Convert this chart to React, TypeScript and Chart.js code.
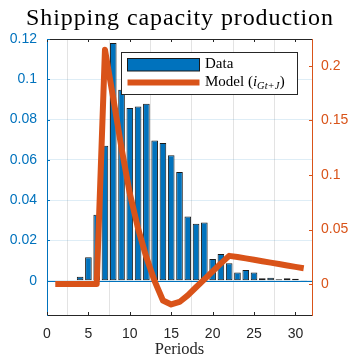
import { useEffect, useRef } from "react";
import { Chart, registerables } from "chart.js";

Chart.register(...registerables);

// Periods 1..31
const periods = [
  1, 2, 3, 4, 5, 6, 7, 8, 9, 10, 11, 12, 13, 14, 15, 16, 17, 18, 19, 20, 21, 22, 23, 24, 25, 26, 27,
  28, 29, 30, 31,
];

// Observed shipping capacity production (left axis)
const capacityData = [
  0, 0, 0, 0.002, 0.0116, 0.0327, 0.067, 0.118, 0.0948, 0.0857, 0.0865, 0.0878, 0.0696, 0.0683,
  0.0623, 0.054, 0.0318, 0.0282, 0.0289, 0.0108, 0.0133, 0.0087, 0.004, 0.0053, 0.004, 0.0012,
  0.0015, 0.0007, 0.0012, 0.001, 0.0003,
];

// Model response i_{Gt+J} (right axis)
const modelData = [
  0, 0, 0, 0, 0, 0, 0.215, 0.1704, 0.1246, 0.0831, 0.0508, 0.0245, 0.0026, -0.0151, -0.0188,
  -0.0165, -0.0104, -0.003, 0.0043, 0.0116, 0.0189, 0.0258, 0.0248, 0.0235, 0.0222, 0.0209, 0.0196,
  0.0183, 0.017, 0.0157, 0.0145,
];

const xTicks = [0, 5, 10, 15, 20, 25, 30];
const leftTicks = [0, 0.02, 0.04, 0.06, 0.08, 0.1, 0.12];
const rightTicks = [0, 0.05, 0.1, 0.15, 0.2];

const titleText = "Shipping capacity production";
const xLabel = "Periods";
const dataLabel = "Data";
const modelLabel = "Model (";
const modelSymbol = "i";
const modelSubscript = "Gt+J";

const BLUE = "#0072BD";
const ORANGE = "#D95319";
const AXIS = "#262626";
const SANS = "'Liberation Sans', Arial, sans-serif";
const SERIF = "'Liberation Serif', 'Times New Roman', serif";

const fmt = (v: number) => String(Number(Number(v).toFixed(4)));

const framePlugin = {
  id: "frame",
  beforeDatasetsDraw(chart: any) {
    const { ctx, chartArea, scales } = chart;
    const y0 = Math.round(scales.y.getPixelForValue(0)) + 0.5;
    ctx.save();
    ctx.strokeStyle = BLUE;
    ctx.lineWidth = 1;
    ctx.beginPath();
    ctx.moveTo(chartArea.left, y0);
    ctx.lineTo(chartArea.right, y0);
    ctx.stroke();
    ctx.restore();
  },
  afterDatasetsDraw(chart: any) {
    const { ctx, chartArea, scales } = chart;
    const { left, right, top, bottom } = chartArea;
    const tl = 3;
    const seg = (x1: number, y1: number, x2: number, y2: number) => {
      ctx.beginPath();
      ctx.moveTo(x1, y1);
      ctx.lineTo(x2, y2);
      ctx.stroke();
    };
    ctx.save();
    ctx.lineWidth = 1;
    // top edge of the box
    ctx.strokeStyle = AXIS;
    seg(left, Math.round(top) + 0.5, right, Math.round(top) + 0.5);
    // x ticks, pointing inward at bottom and top
    xTicks.forEach((v) => {
      const px = Math.round(scales.x.getPixelForValue(v)) + 0.5;
      seg(px, bottom, px, bottom - tl);
      seg(px, top, px, top + tl);
    });
    ctx.strokeStyle = BLUE;
    leftTicks.forEach((v) => {
      const py = Math.round(scales.y.getPixelForValue(v)) + 0.5;
      seg(left, py, left + tl, py);
    });
    ctx.strokeStyle = ORANGE;
    rightTicks.forEach((v) => {
      const py = Math.round(scales.y1.getPixelForValue(v)) + 0.5;
      seg(right, py, right - tl, py);
    });

    // legend
    const bx = left + 74;
    const by = top + 13;
    const bw = 177;
    const bh = 43;
    ctx.fillStyle = "#ffffff";
    ctx.fillRect(bx, by, bw, bh);
    ctx.strokeStyle = AXIS;
    ctx.strokeRect(bx + 0.5, by + 0.5, bw - 1, bh - 1);

    // bar swatch
    ctx.fillStyle = BLUE;
    ctx.fillRect(bx + 6.5, by + 6, 72, 13);
    ctx.strokeStyle = "#1a1a1a";
    ctx.strokeRect(bx + 6.5, by + 6.5, 72, 12.5);

    // line swatch
    ctx.strokeStyle = ORANGE;
    ctx.lineWidth = 6;
    seg(bx + 6.5, by + 30.5, bx + 78.5, by + 30.5);

    ctx.fillStyle = "#000000";
    ctx.textAlign = "left";
    ctx.textBaseline = "alphabetic";
    ctx.font = `15px ${SERIF}`;
    const tx = bx + 84;
    ctx.fillText(dataLabel, tx, by + 16);
    let cx = tx;
    const ly = by + 34;
    ctx.fillText(modelLabel, cx, ly);
    cx += ctx.measureText(modelLabel).width;
    ctx.font = `italic 15px ${SERIF}`;
    ctx.fillText(modelSymbol, cx, ly);
    cx += ctx.measureText(modelSymbol).width;
    ctx.font = `italic 10.5px ${SERIF}`;
    ctx.fillText(modelSubscript, cx, ly + 3);
    cx += ctx.measureText(modelSubscript).width + 0.5;
    ctx.font = `15px ${SERIF}`;
    ctx.fillText(")", cx, ly);
    ctx.restore();
  },
  afterDraw(chart: any) {
    const { ctx, chartArea } = chart;
    ctx.save();
    ctx.font = `24px ${SERIF}`;
    (ctx as any).letterSpacing = "0.9px";
    ctx.fillStyle = "#000000";
    ctx.textAlign = "center";
    ctx.textBaseline = "alphabetic";
    ctx.fillText(titleText, (chartArea.left + chartArea.right) / 2 + 0.5, 25);
    ctx.restore();
  },
};

export default function App() {
  const canvasRef = useRef<HTMLCanvasElement | null>(null);

  useEffect(() => {
    document.body.style.margin = "0";
    const canvas = canvasRef.current;
    if (!canvas) return;

    const chart = new Chart(canvas, {
      type: "bar",
      data: {
        datasets: [
          {
            type: "line",
            label: "Model",
            data: periods.map((p, i) => ({ x: p, y: modelData[i] })),
            yAxisID: "y1",
            borderColor: ORANGE,
            backgroundColor: ORANGE,
            borderWidth: 6,
            pointRadius: 0,
            tension: 0,
            fill: false,
            borderJoinStyle: "round",
            borderCapStyle: "butt",
            order: 0,
          } as any,
          {
            type: "bar",
            label: "Data",
            data: periods.map((p, i) => ({ x: p, y: capacityData[i] })),
            yAxisID: "y",
            backgroundColor: BLUE,
            borderColor: "#1a1a1a",
            borderWidth: 1,
            borderSkipped: false,
            barPercentage: 0.8,
            categoryPercentage: 1,
            order: 1,
          } as any,
        ],
      },
      options: {
        responsive: false,
        animation: false,
        devicePixelRatio: 1,
        layout: { padding: { top: 39, left: 0, right: 0, bottom: 0 } },
        plugins: {
          legend: { display: false },
          title: { display: false },
          tooltip: { enabled: false },
        },
        scales: {
          x: {
            type: "linear",
            min: 0,
            max: 32,
            offset: false,
            afterBuildTicks: (s: any) => {
              s.ticks = xTicks.map((v) => ({ value: v }));
            },
            afterFit: (s: any) => {
              s.height = 45;
            },
            grid: { color: "rgba(38,38,38,0.13)", drawTicks: false },
            border: { color: AXIS, width: 1 },
            ticks: {
              color: AXIS,
              font: { family: SANS, size: 14 },
              padding: 11,
              maxRotation: 0,
              callback: (v: any) => fmt(v),
            },
            title: {
              display: true,
              text: xLabel,
              color: AXIS,
              font: { family: SERIF, size: 16.5 },
              padding: { top: 0, bottom: 0 },
            },
          },
          y: {
            position: "left",
            min: -0.01705,
            max: 0.12,
            afterBuildTicks: (s: any) => {
              s.ticks = leftTicks.map((v) => ({ value: v }));
            },
            afterFit: (s: any) => {
              s.width = 47;
            },
            grid: { color: "rgba(0,114,189,0.13)", drawTicks: false },
            border: { color: BLUE, width: 1 },
            ticks: {
              color: BLUE,
              font: { family: SANS, size: 14 },
              padding: 10,
              callback: (v: any) => fmt(v),
            },
          },
          y1: {
            position: "right",
            min: -0.02844,
            max: 0.22477,
            afterBuildTicks: (s: any) => {
              s.ticks = rightTicks.map((v) => ({ value: v }));
            },
            afterFit: (s: any) => {
              s.width = 39;
            },
            grid: { display: false, drawTicks: false },
            border: { color: ORANGE, width: 1 },
            ticks: {
              color: ORANGE,
              font: { family: SANS, size: 14 },
              padding: 9,
              callback: (v: any) => fmt(v),
            },
          },
        },
      } as any,
      plugins: [framePlugin],
    });

    return () => chart.destroy();
  }, []);

  return (
    <div style={{ width: 351, height: 360 }}>
      <canvas ref={canvasRef} width={351} height={360} style={{ display: "block" }} />
    </div>
  );
}
